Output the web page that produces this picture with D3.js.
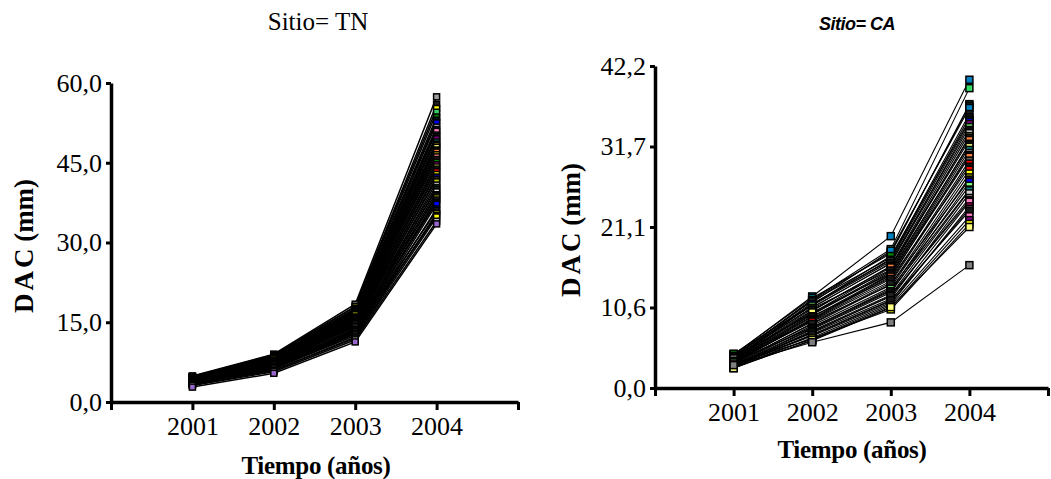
<!DOCTYPE html>
<html>
<head>
<meta charset="utf-8">
<script src="https://cdn.jsdelivr.net/npm/d3@7"></script>
<style>
  body { margin: 0; background: #fff; }
  svg { display: block; }
  .serif { font-family: "Liberation Serif", "Times New Roman", serif; }
</style>
</head>
<body>
<svg id="chart" width="1051" height="479"></svg>
<script>
// years on the x axis (2000 and 2005 are unlabeled end ticks)
const years = [2001, 2002, 2003, 2004];
const xTicks = [2000, 2001, 2002, 2003, 2004, 2005];
const xTickLabels = ["", "2001", "2002", "2003", "2004", ""];

// Sitio = TN : DAC per tree, 2001..2004
const tnSeries = [
  [4.9, 9.0, 18.4, 57.4], [4.8, 8.9, 18.0, 56.0], [4.6, 8.8, 17.9, 55.2],
  [4.8, 8.6, 17.6, 54.5], [4.3, 8.9, 17.2, 53.6], [4.5, 8.7, 17.4, 53.0],
  [4.5, 8.4, 17.0, 52.5], [4.2, 8.7, 16.8, 51.7], [4.6, 8.6, 17.1, 51.2],
  [4.7, 8.2, 16.5, 50.9], [4.4, 8.5, 16.9, 50.2], [4.3, 8.4, 16.6, 49.9],
  [4.1, 8.1, 16.2, 49.5], [4.6, 8.3, 16.0, 48.9], [4.7, 8.3, 16.3, 48.5],
  [4.0, 7.9, 16.4, 48.2], [4.3, 8.0, 15.8, 47.9], [4.2, 8.1, 16.0, 47.4],
  [4.5, 7.7, 15.5, 47.0], [3.9, 8.2, 15.7, 46.5], [4.2, 7.8, 15.3, 46.1],
  [4.4, 7.9, 15.6, 45.6], [4.4, 7.5, 15.0, 45.1], [3.8, 7.6, 15.4, 44.6],
  [4.1, 7.3, 14.8, 44.2], [4.0, 7.8, 15.2, 43.8], [4.0, 7.4, 14.6, 43.3],
  [3.7, 7.2, 14.9, 42.8], [4.2, 7.0, 14.3, 42.3], [4.1, 7.6, 14.9, 41.9],
  [3.9, 7.1, 14.1, 41.4], [3.6, 6.9, 14.5, 40.8], [4.0, 6.8, 13.8, 40.3],
  [3.9, 7.5, 14.7, 40.0], [3.5, 6.7, 13.9, 39.5], [3.8, 6.6, 13.5, 39.0],
  [3.8, 7.2, 14.2, 38.8], [3.7, 6.5, 13.2, 38.4], [3.4, 6.4, 13.0, 38.0],
  [3.6, 7.0, 13.6, 37.6], [3.6, 6.2, 12.8, 37.2], [3.3, 6.3, 12.5, 36.3],
  [3.7, 6.6, 13.3, 36.0], [3.5, 6.0, 12.2, 35.5], [3.4, 6.5, 12.9, 35.1],
  [3.2, 5.9, 12.0, 34.8], [3.1, 5.7, 11.7, 34.0], [2.8, 5.4, 11.3, 33.5]
];
const tnColors = [
  "#a0a0a0", "#202020", "#ffff00", "#33cc66", "#008000", "#101010",
  "#0000ff", "#a0a0a0", "#202020", "#ff80c0", "#008080", "#181818",
  "#800080", "#008b8b", "#202020", "#e8e800", "#ffff80", "#151515",
  "#ff8040", "#f0e000", "#ff8080", "#202020", "#008000", "#cc00cc",
  "#ffff40", "#101010", "#ff0000", "#e0e000", "#0000ff", "#202020",
  "#c8c800", "#b0b0b0", "#008080", "#181818", "#ffffff", "#ff0000",
  "#202020", "#ffff00", "#303030", "#151515", "#0000ff", "#0000ff",
  "#202020", "#c0c000", "#101010", "#ffff00", "#c0c0c0", "#9966cc"
];

// Sitio = CA
const caSeries = [
  [4.3, 12.0, 19.9, 40.4], [4.0, 11.6, 18.2, 39.3], [4.4, 11.8, 17.6, 37.2],
  [4.2, 11.5, 17.8, 37.0], [3.8, 11.2, 18.0, 36.7], [4.1, 11.4, 17.1, 35.9],
  [3.9, 10.9, 16.9, 35.5], [4.5, 10.9, 17.3, 35.1], [3.6, 11.0, 16.8, 34.9],
  [3.9, 10.6, 16.3, 34.6], [4.2, 10.8, 16.6, 34.2], [4.0, 10.5, 16.4, 33.8],
  [3.5, 10.1, 16.0, 33.4], [3.7, 10.4, 15.5, 33.0], [3.7, 10.2, 15.9, 32.8],
  [4.0, 9.8, 15.8, 32.5], [3.4, 9.6, 15.2, 32.0], [3.6, 9.7, 15.4, 31.9],
  [3.8, 9.9, 15.0, 31.6], [3.3, 9.1, 14.8, 31.2], [3.6, 9.4, 14.4, 30.8],
  [3.4, 9.3, 14.9, 30.5], [3.2, 9.0, 14.6, 30.3], [3.9, 8.8, 14.0, 29.8],
  [3.1, 8.5, 13.8, 29.4], [3.3, 8.9, 14.3, 29.0], [3.5, 8.7, 13.5, 28.6],
  [3.0, 8.2, 13.2, 28.1], [3.3, 8.0, 12.8, 27.6], [3.2, 8.4, 13.6, 27.3],
  [2.9, 7.7, 12.5, 27.0], [3.4, 7.9, 13.0, 26.5], [3.0, 7.8, 12.7, 26.0],
  [2.8, 7.5, 12.2, 25.9], [3.1, 7.2, 11.7, 25.5], [2.7, 7.4, 12.0, 24.9],
  [2.9, 7.3, 12.1, 24.6], [3.0, 6.9, 11.4, 24.4], [2.6, 6.6, 11.0, 23.8],
  [2.9, 6.8, 11.2, 23.5], [2.8, 7.0, 11.5, 23.2], [3.2, 6.4, 10.8, 22.5],
  [2.7, 6.2, 10.5, 22.0], [2.8, 6.5, 10.3, 21.5], [2.6, 6.3, 10.6, 21.1],
  [3.0, 6.0, 8.6, 16.1]
];
const caColors = [
  "#0080c0", "#33dd66", "#008080", "#202020", "#0080c0", "#202020",
  "#151515", "#008000", "#0000ff", "#800080", "#66cc66", "#101010",
  "#c0c0c0", "#ffff40", "#202020", "#ff8040", "#a0a0a0", "#181818",
  "#ffff80", "#008080", "#909090", "#202020", "#ff8040", "#606060",
  "#ff0000", "#151515", "#ff0000", "#ffff00", "#c8c800", "#202020",
  "#0000ff", "#80ff80", "#101010", "#008b8b", "#d0d0d0", "#a0a0a0",
  "#202020", "#ff80c0", "#ff0080", "#505050", "#181818", "#ff80c0",
  "#800080", "#ffff00", "#ffff80", "#808080"
];

const tnYTicks = [0, 15, 30, 45, 60];
const tnYLabels = ["0,0", "15,0", "30,0", "45,0", "60,0"];
const caYTicks = [0, 10.55, 21.1, 31.65, 42.2];
const caYLabels = ["0,0", "10,6", "21,1", "31,7", "42,2"];

const svg = d3.select("#chart");

function drawPanel(opt) {
  const x = d3.scaleLinear().domain([2000, 2005]).range(opt.xRange);
  const y = d3.scaleLinear().domain([0, opt.yMax]).range(opt.yRange);
  const g = svg.append("g");

  const line = d3.line().x((d, i) => x(years[i])).y(d => y(d));
  g.append("g").attr("fill", "none")
    .selectAll("path").data(opt.series).enter().append("path")
    .attr("d", line)
    .attr("stroke", "#000").attr("stroke-width", opt.lw);

  // markers
  const mg = g.append("g");
  opt.series.forEach((s, k) => {
    mg.selectAll(null).data(s).enter().append("rect")
      .attr("x", (d, i) => x(years[i]) - opt.ms / 2)
      .attr("y", d => y(d) - opt.ms / 2)
      .attr("width", opt.ms).attr("height", opt.ms)
      .attr("fill", opt.colors[k % opt.colors.length])
      .attr("stroke", "#000").attr("stroke-width", 1.5);
  });

  // axes
  const yAxis = g.append("g")
    .attr("transform", `translate(${opt.xRange[0]},0)`)
    .call(d3.axisLeft(y).tickValues(opt.yTicks)
      .tickFormat((d, i) => opt.yLabels[i]).tickSize(5).tickSizeOuter(0).tickPadding(4));
  const xAxis = g.append("g")
    .attr("transform", `translate(0,${opt.yRange[0]})`)
    .call(d3.axisBottom(x).tickValues(xTicks)
      .tickFormat((d, i) => xTickLabels[i]).tickSize(8).tickSizeOuter(0).tickPadding(7));

  [yAxis, xAxis].forEach(a => {
    a.select(".domain").attr("stroke", "#000").attr("stroke-width", 3.5);
    a.selectAll(".tick line").attr("stroke", "#000").attr("stroke-width", 3);
    a.selectAll("text")
      .attr("fill", "#000")
      .style("font-family", '"Liberation Serif", "Times New Roman", serif')
      .style("font-size", "26px");
  });

  // axis titles
  const yt = g.append("text").attr("class", "serif")
    .attr("transform", `translate(${opt.yTitleX},${opt.yTitleY}) rotate(-90)`)
    .attr("text-anchor", "middle")
    .style("font-size", "27px").style("font-weight", "bold");
  yt.append("tspan").style("letter-spacing", "3px").text("DA");
  yt.append("tspan").text("C (mm)");
  g.append("text").attr("class", "serif")
    .attr("x", opt.xTitleX).attr("y", opt.xTitleY)
    .attr("text-anchor", "middle")
    .style("font-size", "25px").style("font-weight", "bold")
    .style("letter-spacing", "-0.3px")
    .text("Tiempo (años)");
}

drawPanel({
  series: tnSeries, colors: tnColors, yMax: 60, ms: 6, lw: 1.5,
  xRange: [111, 518], yRange: [402, 83],
  yTicks: tnYTicks, yLabels: tnYLabels,
  yTitleX: 33, yTitleY: 246, xTitleX: 316, xTitleY: 474
});

drawPanel({
  series: caSeries, colors: caColors, yMax: 42.2, ms: 7, lw: 1.1,
  xRange: [655, 1048], yRange: [388, 66],
  yTicks: caYTicks, yLabels: caYLabels,
  yTitleX: 580, yTitleY: 230, xTitleX: 852, xTitleY: 458
});

// panel titles
svg.append("text").attr("class", "serif")
  .attr("x", 318).attr("y", 30).attr("text-anchor", "middle")
  .style("font-size", "25px")
  .text("Sitio= TN");
svg.append("text")
  .attr("x", 857).attr("y", 30).attr("text-anchor", "middle")
  .style("font-family", '"Liberation Sans", Arial, sans-serif')
  .style("font-size", "18px").style("font-weight", "bold").style("font-style", "italic")
  .style("letter-spacing", "-0.5px")
  .text("Sitio= CA");
</script>
</body>
</html>
